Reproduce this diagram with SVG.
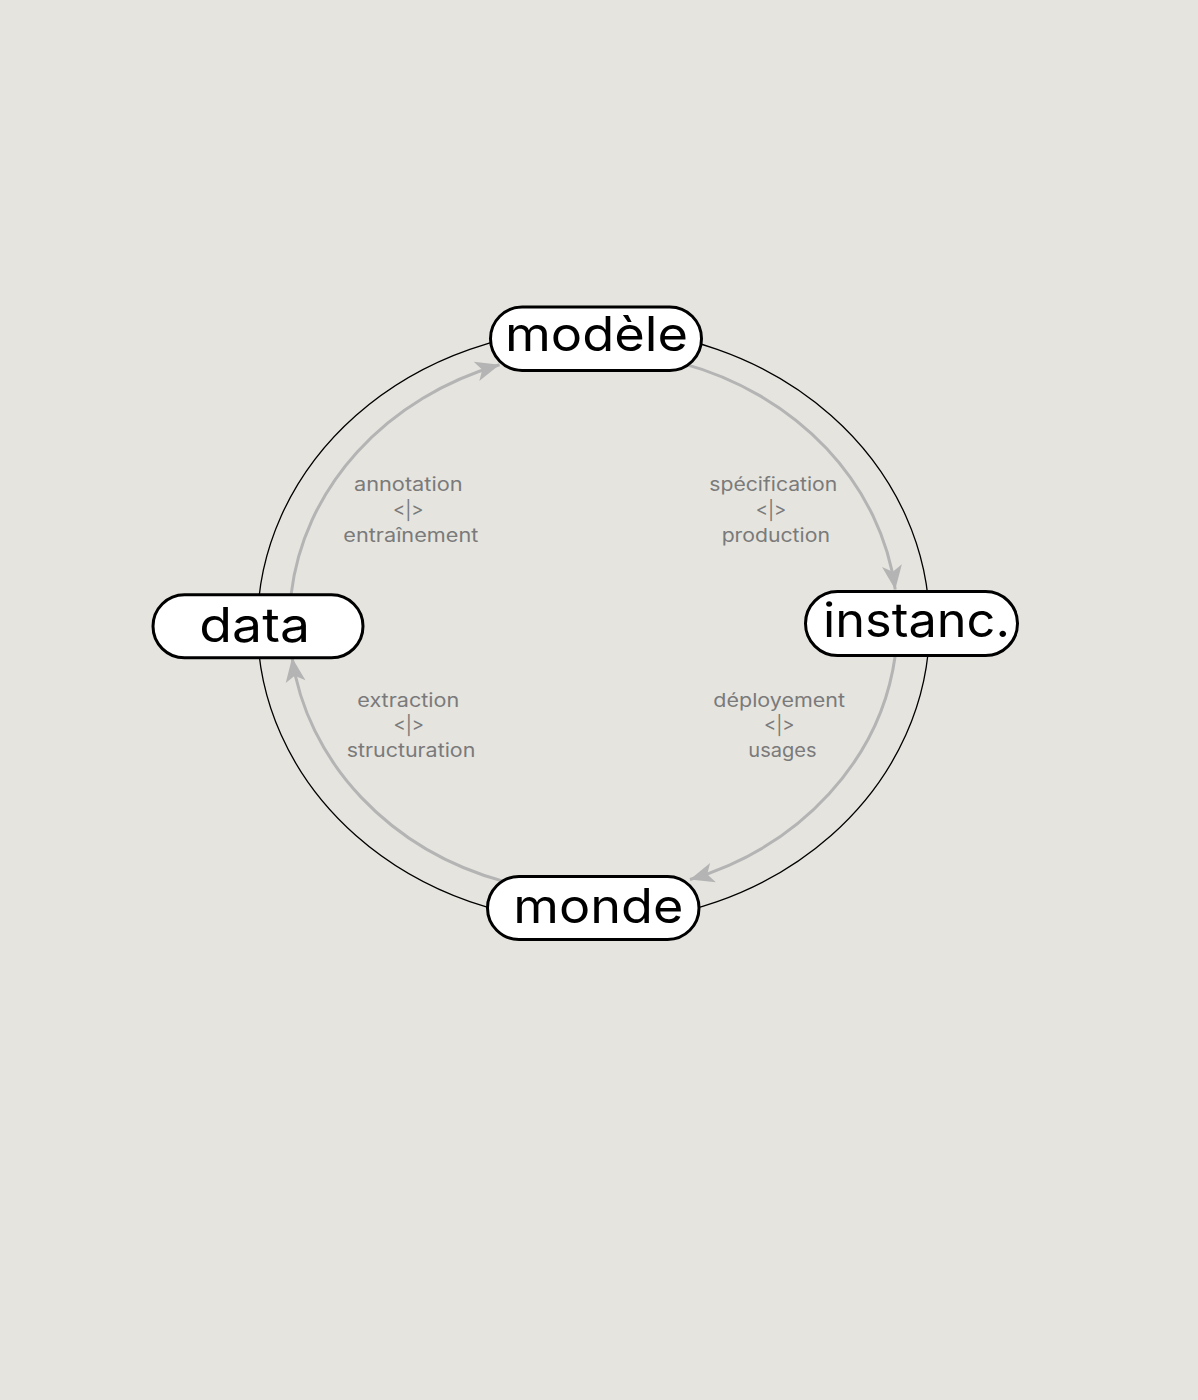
<svg xmlns="http://www.w3.org/2000/svg" width="1198" height="1400" viewBox="0 0 1198 1400">
  <defs>
    <style>
      .node rect { fill: #ffffff; stroke: #000000; stroke-width: 3; }
      .node text { font-family: Inter, "Liberation Sans", "DejaVu Sans", sans-serif; font-size: 48px; fill: #000000; }
      .lbl { font-family: Inter, "Liberation Sans", "DejaVu Sans", sans-serif; font-size: 18.5px; fill: #7a7a7a; text-anchor: middle; }
      .flow { fill: none; stroke: #b4b4b4; stroke-width: 3; marker-end: url(#arr); }
      .ring { fill: none; stroke: #000000; stroke-width: 1.3; }
    </style>
    <marker id="arr" markerUnits="userSpaceOnUse" viewBox="-1 -11 26 22" refX="24" refY="0" markerWidth="26" markerHeight="22" orient="auto">
      <path d="M0,-10 L24,0 L0,10 L6,0 Z" fill="#b4b4b4"/>
    </marker>
  </defs>
  <rect x="0" y="0" width="1198" height="1400" fill="#e5e4df"/>

  <g id="connectors">
    <ellipse class="ring" cx="593.5" cy="625.5" rx="336" ry="297"/>
    <path class="flow" d="M291.17 594.17 A304 271 0 0 1 499.56 364.76"/>
    <path class="flow" d="M682.38 363.34 A304 271 0 0 1 895.24 589.47"/>
    <path class="flow" d="M895.24 655.53 A304 271 0 0 1 689.96 879.50"/>
    <path class="flow" d="M504.62 881.66 A304 271 0 0 1 292.10 657.87"/>
  </g>

  <g id="labels">
    <text class="lbl" x="408.3" y="491" textLength="108.7" lengthAdjust="spacingAndGlyphs">annotation</text>
    <text class="lbl" x="408.3" y="516.5">&lt;|&gt;</text>
    <text class="lbl" x="410.8" y="542" textLength="135" lengthAdjust="spacingAndGlyphs">entraînement</text>

    <text class="lbl" x="773.3" y="491" textLength="128" lengthAdjust="spacingAndGlyphs">spécification</text>
    <text class="lbl" x="771" y="516.5">&lt;|&gt;</text>
    <text class="lbl" x="775.8" y="542" textLength="108.3" lengthAdjust="spacingAndGlyphs">production</text>

    <text class="lbl" x="408.3" y="707" textLength="102" lengthAdjust="spacingAndGlyphs">extraction</text>
    <text class="lbl" x="408.8" y="732">&lt;|&gt;</text>
    <text class="lbl" x="411" y="757.3" textLength="128.7" lengthAdjust="spacingAndGlyphs">structuration</text>

    <text class="lbl" x="779.2" y="707" textLength="131.7" lengthAdjust="spacingAndGlyphs">déployement</text>
    <text class="lbl" x="779.3" y="732">&lt;|&gt;</text>
    <text class="lbl" x="782.5" y="757.3" textLength="68.3" lengthAdjust="spacingAndGlyphs">usages</text>
  </g>

  <g id="node-modele" class="node">
    <rect x="490.5" y="307" width="211" height="63.5" rx="31.7"/>
    <text x="505" y="350.5" textLength="183" lengthAdjust="spacingAndGlyphs">modèle</text>
  </g>

  <g id="node-instanc" class="node">
    <rect x="805.5" y="591.5" width="212" height="64" rx="32"/>
    <text x="823" y="637" textLength="187" lengthAdjust="spacingAndGlyphs">instanc.</text>
  </g>

  <g id="node-data" class="node">
    <rect x="153" y="594.8" width="210" height="63" rx="31.5"/>
    <text x="199.3" y="641.5" textLength="110.7" lengthAdjust="spacingAndGlyphs">data</text>
  </g>

  <g id="node-monde" class="node">
    <rect x="487.5" y="876.5" width="211.5" height="63" rx="31.5"/>
    <text x="513.3" y="923.3" textLength="170" lengthAdjust="spacingAndGlyphs">monde</text>
  </g>
</svg>
